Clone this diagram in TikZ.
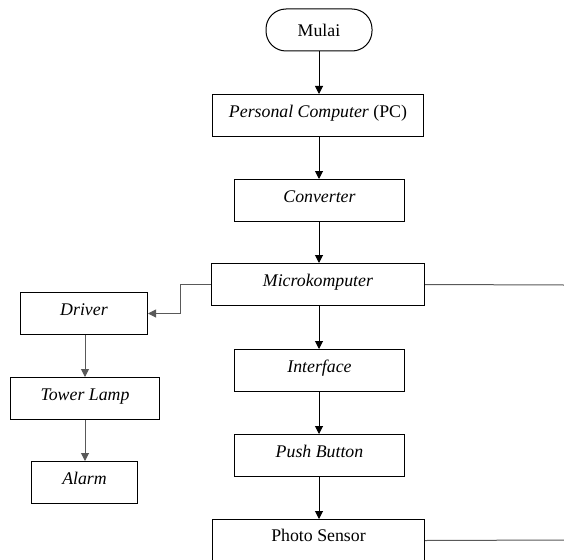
\documentclass[tikz,border=0pt]{standalone}
\usepackage{fontspec}
\setmainfont{Liberation Serif}
\usetikzlibrary{arrows.meta}
\begin{document}
\begin{tikzpicture}[x=1pt,y=-1pt,
  font=\fontsize{17.8}{20}\selectfont,
  box/.style={draw, line width=1pt, inner xsep=0pt, inner ysep=0pt,
    text height=23pt, text depth=19pt, minimum height=42pt, anchor=north west},
  term/.style={draw, line width=1pt, rounded corners=20pt, minimum width=106pt,
    minimum height=42pt, inner sep=0pt},
  arr/.style={-{Triangle[width=8pt,length=8pt]}, line width=1pt},
  ln/.style={line width=1pt, draw=black!65}]
\useasboundingbox (0,0) rectangle (564,559);
\clip (0,0) rectangle (564,559);
% middle column
\node[term] (mulai) at (319,30) {Mulai};
\node[box, minimum width=211pt] (pc) at (212,94) {\textit{Personal Computer} (PC)};
\node[box, minimum width=170pt] (conv) at (234,179) {\textit{Converter}};
\node[box, minimum width=213pt] (micro) at (211,263) {\textit{Microkomputer}};
\node[box, minimum width=170pt] (intf) at (234,349) {\textit{Interface}};
\node[box, minimum width=170pt] (push) at (234,434) {\textit{Push Button}};
\node[box, minimum width=212pt, text height=22pt, text depth=20pt] (photo) at (212,519) {Photo Sensor};
% left column
\node[box, minimum width=127pt] (drv) at (20,292) {\textit{Driver}};
\node[box, minimum width=149pt] (tower) at (10,377) {\textit{Tower Lamp}};
\node[box, minimum width=106pt] (alarm) at (31,461) {\textit{Alarm}};
% free ends and column axes
\coordinate (mr) at (564,285);
\coordinate (pr) at (564,540);
\coordinate (cx) at (319,0);
\coordinate (lx) at (85,0);
% connectors
\draw[arr] (mulai.south) -- (cx |- pc.north);
\draw[arr] (cx |- pc.south) -- (cx |- conv.north);
\draw[arr] (cx |- conv.south) -- (cx |- micro.north);
\draw[arr] (cx |- micro.south) -- (cx |- intf.north);
\draw[arr] (cx |- intf.south) -- (cx |- push.north);
\draw[arr] (cx |- push.south) -- (cx |- photo.north);
\draw[arr, ln] (micro.west) -- ++(-31,0) |- (drv.east);
\draw[arr, ln] (lx |- drv.south) -- (lx |- tower.north);
\draw[arr, ln] (lx |- tower.south) -- (lx |- alarm.north);
\draw[ln] (micro.east) -- (mr);
\draw[ln] (photo.east) -- (pr);
\end{tikzpicture}
\end{document}
